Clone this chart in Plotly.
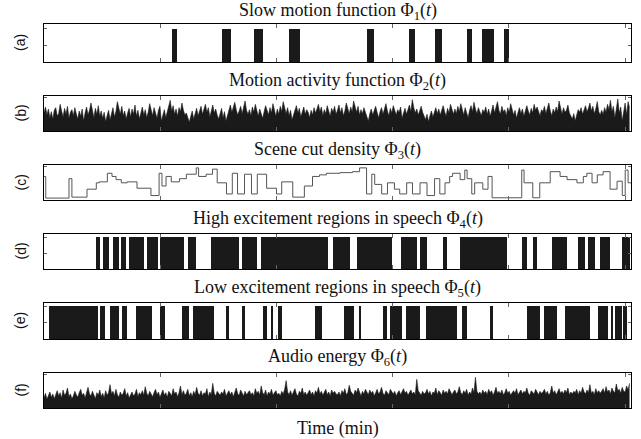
import numpy as np
import plotly.graph_objects as go

# ---------------- data (time in minutes) ----------------
# (a) slow motion segments: start, end
slow_start = [22.1, 30.7, 36.2, 42.2, 55.5, 62.8, 67.2, 72.8, 75.3, 76.3, 79.1]
slow_end   = [22.9, 32.1, 37.6, 44.0, 56.7, 63.8, 68.4, 73.6, 76.2, 77.4, 80.0]

# (b) motion activity samples (0-100)
motion_activity = [
    55,72,48,66,40,58,35,62,70,45,52,80,60,42,68,50,74,38,56,64,
    46,70,52,36,60,44,66,30,54,72,48,62,84,58,40,68,50,76,44,60,
    38,56,28,46,62,34,52,70,42,58,88,64,50,74,46,60,36,54,68,42,
    66,50,78,44,62,36,58,72,48,64,40,56,82,60,46,70,52,38,62,74,
    30,48,64,40,56,72,92,60,76,50,66,44,70,58,84,62,48,54,40,26,
    44,60,36,52,68,46,58,74,50,64,80,56,70,42,62,78,54,66,48,36,
    52,68,40,58,30,46,62,78,56,72,86,64,48,60,74,52,68,90,62,50,
    64,46,72,56,80,60,44,66,52,38,58,76,62,48,70,54,82,58,44,66,
    50,74,58,88,66,52,70,46,62,34,48,60,76,54,68,42,58,72,50,64,
    56,40,62,48,70,54,66,80,58,72,46,64,52,76,60,44,68,56,74,50,
    62,78,54,70,46,60,84,66,52,72,58,90,68,56,74,48,64,52,70,58,
    44,30,52,66,48,62,74,56,40,58,70,50,64,82,60,46,68,54,76,62,
    48,64,56,72,38,54,68,50,62,78,58,94,70,54,66,48,60,74,56,42,
    34,50,28,46,60,42,56,70,52,66,48,62,76,58,44,68,54,80,64,50,
    66,52,74,58,82,64,48,70,56,40,62,76,58,86,66,52,70,60,46,64,
    56,72,50,66,44,60,78,54,68,88,62,50,74,58,64,46,70,56,82,60,
    48,62,38,56,70,52,66,44,58,76,60,48,68,54,80,62,72,56,46,64,
    58,74,52,68,84,60,46,66,54,72,58,90,64,50,70,56,62,78,54,42,
    36,52,30,48,64,56,70,50,62,76,58,68,84,60,74,52,66,88,58,48,
    62,50,70,56,80,64,92,58,74,40,66,96,54,72,30,60,84,48,88,70,
]

# (c) scene cut density: step start times and levels
cut_time = [0.0, 0.3, 4.3, 4.8, 7.4, 9.0, 9.5, 10.9, 11.7, 12.4, 13.3, 14.3, 16.0, 18.4,
            19.8, 20.3, 21.0, 21.9, 23.3, 24.5, 26.2, 26.6, 27.9, 29.0, 29.8, 31.4, 32.4,
            33.3, 34.5, 35.7, 36.7, 38.3, 40.0, 40.9, 42.8, 44.8, 46.2, 47.4, 48.6, 50.9,
            53.1, 54.3, 55.5, 56.4, 56.9, 58.1, 59.1, 60.3, 61.2, 62.4, 63.4, 64.7, 65.9,
            67.2, 68.1, 69.0, 69.8, 70.3, 71.6, 72.4, 72.8, 73.6, 74.1, 75.5, 76.4, 77.1,
            82.2, 82.6, 84.1, 85.3, 87.1, 88.8, 90.0, 91.7, 92.8, 93.4, 94.3, 95.2, 96.2,
            97.4, 98.6, 99.5, 100.0, 100.5, 101.0]
cut_level = [0.70, 0.02, 0.63, 0.05, 0.30, 0.50, 0.53, 0.80, 0.70, 0.60, 0.50, 0.53, 0.33, 0.10,
             0.80, 0.40, 0.70, 0.53, 0.63, 0.77, 0.97, 0.70, 0.77, 0.93, 0.50, 0.15, 0.80,
             0.15, 0.77, 0.15, 0.77, 0.33, 0.15, 0.53, 0.05, 0.40, 0.70, 0.75, 0.80, 0.82,
             0.85, 0.97, 0.15, 0.77, 0.45, 0.15, 0.50, 0.30, 0.15, 0.50, 0.15, 0.50, 0.10,
             0.63, 0.15, 0.50, 0.70, 0.80, 0.60, 0.90, 0.63, 0.15, 0.50, 0.30, 0.70, 0.03,
             0.90, 0.50, 0.03, 0.50, 0.85, 0.70, 0.60, 0.50, 0.70, 0.80, 0.50, 0.75, 0.85,
             0.30, 0.55, 0.10, 0.90, 0.50, 0.50]

# (d) high excitement speech regions
high_start = [9.0, 10.2, 11.9, 13.3, 14.7, 17.8, 20.0, 24.8, 28.8, 34.1, 37.4, 49.7, 53.8,
              61.4, 64.7, 68.6, 71.6, 82.2, 84.1, 87.4, 91.9, 93.6, 95.7, 99.5]
high_end   = [9.7, 11.2, 12.9, 14.1, 17.2, 19.7, 24.1, 26.2, 33.6, 36.7, 48.8, 52.6, 59.8,
              64.1, 65.9, 69.3, 79.7, 83.1, 84.8, 90.0, 93.1, 94.8, 97.4, 100.9]

# (e) low excitement speech regions
low_start = [0.9, 9.6, 11.4, 13.4, 15.9, 20.0, 23.8, 25.7, 31.4, 34.1, 37.6, 39.1, 40.3,
             46.6, 51.7, 54.3, 58.3, 59.5, 62.2, 65.7, 71.9, 76.7, 83.1, 86.0, 89.7, 95.3,
             97.6, 98.3, 99.7]
low_end   = [9.3, 10.5, 12.9, 14.3, 18.6, 20.9, 25.0, 29.3, 31.9, 34.5, 38.3, 39.3, 40.9,
             47.9, 53.4, 54.5, 59.1, 61.6, 64.7, 71.0, 72.8, 77.2, 85.3, 88.3, 94.0, 97.1,
             97.9, 99.5, 100.3]

# (f) audio energy samples (0-100)
audio_energy = [
    30,44,26,38,48,32,42,28,40,52,36,46,30,54,38,44,60,34,42,28,
    36,50,40,32,46,56,38,44,30,48,62,42,36,50,40,28,46,38,54,34,
    44,30,52,38,46,70,42,50,36,56,40,32,48,38,44,58,36,46,30,40,
    48,36,42,56,34,46,40,52,38,64,44,36,50,42,34,46,56,40,48,32,
    42,54,38,46,32,50,44,36,58,42,48,34,46,66,40,52,38,44,56,36,
    46,34,50,40,62,44,38,52,36,46,42,58,34,48,40,74,44,36,50,42,
    38,48,42,56,36,44,52,40,48,34,46,60,42,38,54,44,36,50,40,46,
    52,40,46,36,58,44,50,38,66,46,40,54,36,48,42,56,38,46,52,40,
    44,36,50,42,56,82,48,40,52,38,46,58,42,36,50,44,60,40,48,38,
    46,54,40,48,36,52,44,62,42,50,38,46,56,40,48,36,54,44,50,42,
    40,48,36,52,44,58,40,46,68,50,42,38,54,46,60,44,36,50,42,56,
    48,40,54,44,50,36,46,56,42,48,62,44,38,52,46,40,56,48,42,50,
    36,46,52,40,48,58,44,50,38,46,54,42,48,40,86,52,44,38,50,42,
    46,56,42,50,36,48,44,60,40,52,46,38,54,44,50,42,58,46,40,48,
    54,42,48,64,46,40,52,44,56,38,48,42,60,46,92,50,42,48,40,54,
    44,50,40,56,46,52,38,48,62,44,50,42,54,40,46,58,44,50,38,46,
    52,44,58,40,48,54,42,50,46,60,44,38,52,48,42,56,46,40,50,44,
    48,56,42,50,38,46,66,44,52,40,48,58,44,50,42,54,46,60,40,48,
    42,50,46,56,40,52,44,62,48,42,54,46,70,44,50,40,58,46,52,44,
    50,58,44,64,48,54,42,60,50,46,72,52,56,44,62,50,48,66,54,74,
]

duration = 101.0
time_ticks = [20, 40, 60, 80, 100]

titles = [
    "Slow motion function Φ<sub>1</sub>(<i>t</i>)",
    "Motion activity function Φ<sub>2</sub>(<i>t</i>)",
    "Scene cut density Φ<sub>3</sub>(<i>t</i>)",
    "High excitement regions in speech Φ<sub>4</sub>(<i>t</i>)",
    "Low excitement regions in speech Φ<sub>5</sub>(<i>t</i>)",
    "Audio energy Φ<sub>6</sub>(<i>t</i>)",
]
panel_labels = ["(a)", "(b)", "(c)", "(d)", "(e)", "(f)"]

# ---------------- layout geometry (pixels) ----------------
W, H = 641, 439
x_left, x_right = 44, 631
panels_px = [(24, 62), (96, 131), (165, 200), (234, 269), (303, 339), (373, 408)]
title_y_px = [12, 81, 150, 219, 288, 357]

BLACK = "#1a1a1a"
fig = go.Figure()


def interval_bars(starts, ends, ax):
    s = np.array(starts)
    e = np.array(ends)
    fig.add_trace(go.Bar(
        x=(s + e) / 2, y=np.ones(len(s)), width=e - s,
        marker=dict(color=BLACK, line=dict(width=0)),
        xaxis="x" + ax, yaxis="y" + ax, showlegend=False, hoverinfo="skip"))


def sampled_fill(values, ax):
    v = np.array(values, dtype=float)
    t = np.arange(len(v)) * (duration / len(v))
    fig.add_trace(go.Scatter(
        x=t, y=v, mode="lines", line=dict(color=BLACK, width=0.6),
        fill="tozeroy", fillcolor=BLACK,
        xaxis="x" + ax, yaxis="y" + ax, showlegend=False, hoverinfo="skip"))


interval_bars(slow_start, slow_end, "")
sampled_fill(motion_activity, "2")
fig.add_trace(go.Scatter(
    x=cut_time, y=cut_level, mode="lines", line=dict(color="#555555", width=1, shape="hv"),
    xaxis="x3", yaxis="y3", showlegend=False, hoverinfo="skip"))
interval_bars(high_start, high_end, "4")
interval_bars(low_start, low_end, "5")
sampled_fill(audio_energy, "6")

y_ranges = [[0, 1.15], [0, 105], [-0.04, 1.06], [0, 1.1], [0, 1.1], [0, 105]]
y_ticks = [[0.5, 1], [100], [1], [0.5, 1], [0.5, 1], [100]]

layout = dict(
    width=W, height=H, margin=dict(l=0, r=0, t=0, b=0),
    paper_bgcolor="white", plot_bgcolor="white", showlegend=False,
    bargap=0,
)
annotations = []
for i in range(6):
    suf = "" if i == 0 else str(i + 1)
    top, bot = panels_px[i]
    layout["xaxis" + suf] = dict(
        domain=[x_left / W, x_right / W], range=[0, duration],
        anchor="y" + suf, showline=True, linecolor="black", linewidth=1, mirror="ticks",
        ticks="inside", ticklen=4, tickcolor="#666666", tickvals=time_ticks,
        showticklabels=False, showgrid=False, zeroline=False, fixedrange=True)
    layout["yaxis" + suf] = dict(
        domain=[1 - bot / H, 1 - top / H], range=y_ranges[i],
        anchor="x" + suf, showline=True, linecolor="black", linewidth=1, mirror="ticks",
        ticks="inside", ticklen=3, tickcolor="#666666", tickvals=y_ticks[i],
        showticklabels=False, showgrid=False, zeroline=False, fixedrange=True)
    annotations.append(dict(
        text=titles[i], xref="paper", yref="paper",
        x=(x_left + x_right) / 2 / W, y=1 - title_y_px[i] / H,
        xanchor="center", yanchor="middle", showarrow=False,
        font=dict(family="Liberation Serif", size=18, color="#111111")))
    annotations.append(dict(
        text=panel_labels[i], xref="paper", yref="paper",
        x=20 / W, y=1 - (top + bot) / 2 / H, textangle=-90,
        xanchor="center", yanchor="middle", showarrow=False,
        font=dict(family="Liberation Sans", size=14, color="#111111")))

annotations.append(dict(
    text="Time (min)", xref="paper", yref="paper",
    x=(x_left + x_right) / 2 / W, y=1 - 428 / H,
    xanchor="center", yanchor="middle", showarrow=False,
    font=dict(family="Liberation Serif", size=18, color="#111111")))
layout["annotations"] = annotations

fig.update_layout(**layout)
fig.write_html("out.html", config={"displayModeBar": False},
               post_script="document.body.style.margin='0px';")
